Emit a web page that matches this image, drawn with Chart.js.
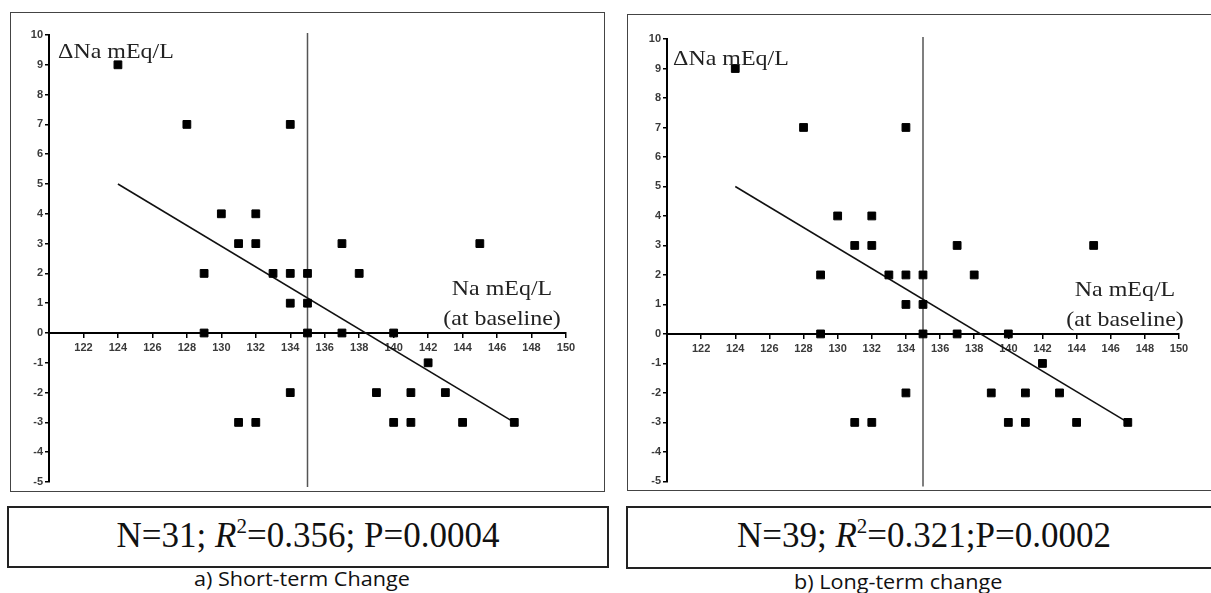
<!DOCTYPE html>
<html>
<head>
<meta charset="utf-8">
<script src="https://cdn.jsdelivr.net/npm/chart.js@4.4.0/dist/chart.umd.min.js"></script>
<style>
  body { margin: 0; background: #fff; width: 1211px; height: 593px; overflow: hidden; position: relative; }
  .plotbox { position: absolute; border: 1.5px solid #444; box-sizing: border-box; }
  canvas { position: absolute; }
  .stats {
    position: absolute; border: 2px solid #222; box-sizing: border-box;
    font-family: "Liberation Serif", "Times New Roman", serif; font-size: 35px; color: #111;
    white-space: nowrap; text-align: center; line-height: 56px;
  }
  .stats sup { font-size: 60%; vertical-align: 0; position: relative; top: -0.65em; }
  .caption {
    position: absolute; font-family: "Open Sans", sans-serif; font-size: 20px; color: #111;
    white-space: nowrap; line-height: 22px; transform: scaleX(1.08); transform-origin: left top;
  }
</style>
</head>
<body>
  <div class="plotbox" style="left:10px; top:12px; width:595px; height:480px;"></div>
  <div class="plotbox" style="left:627px; top:14px; width:600px; height:477px;"></div>
  <canvas id="shortTerm" width="592" height="478" style="left:11px; top:13px;"></canvas>
  <canvas id="longTerm" width="582" height="474" style="left:629px; top:16px;"></canvas>

  <div class="stats" style="left:7px; top:506px; width:602px; height:62px;">N=31; <i>R</i><sup>2</sup>=0.356; P=0.0004</div>
  <div class="stats" style="left:626px; top:506px; width:596px; height:63px;">N=39; <i>R</i><sup>2</sup>=0.321;P=0.0002</div>
  <div class="caption" style="left:194px; top:568px;">a) Short-term Change</div>
  <div class="caption" style="left:794px; top:571px;">b) Long-term change</div>

<script>
// baseline Na (mEq/L) and change in Na (same points visible in both panels)
const naBaseline = [124, 128, 134, 130, 132, 131, 132, 129, 133, 134, 135, 137, 138, 145, 134, 135,
                    129, 135, 137, 140, 131, 132, 134, 139, 141, 143, 142, 140, 141, 144, 147];
const naChange   = [9, 7, 7, 4, 4, 3, 3, 2, 2, 2, 2, 3, 2, 3, 1, 1,
                    0, 0, 0, 0, -3, -3, -2, -2, -2, -2, -1, -3, -3, -3, -3];

// regression line end points
const fitX = [124, 147];
const fitY = [5, -3];

// vertical reference line
const refLineX = 135;

const xRange = [120, 150];
const yRange = [-5, 10];

const tickFont = { family: 'Arial, "Liberation Sans", sans-serif', size: 11, weight: 'bold' };

function stretchText(ctx, text, x, y, sx) {
  ctx.save();
  ctx.translate(x, y);
  ctx.scale(sx, 1);
  ctx.fillText(text, 0, 0);
  ctx.restore();
}

const annotations = {
  id: 'annotations',
  beforeDatasetsDraw(chart) {
    const { ctx, chartArea, scales: { x } } = chart;
    const px = x.getPixelForValue(refLineX);
    ctx.save();
    ctx.strokeStyle = '#555';
    ctx.lineWidth = 1.5;
    ctx.beginPath();
    ctx.moveTo(px, chartArea.top - 2);
    ctx.lineTo(px, chartArea.bottom + 5);
    ctx.stroke();
    ctx.restore();
  },
  afterDraw(chart, args, opts) {
    const { ctx, chartArea, scales: { y } } = chart;
    const y0 = y.getPixelForValue(0);
    ctx.save();
    ctx.fillStyle = '#222';
    ctx.font = '21px "Liberation Serif", "Times New Roman", serif';
    ctx.textBaseline = 'alphabetic';
    ctx.textAlign = 'left';
    stretchText(ctx, '\u0394Na mEq/L', chartArea.left + opts.titleDx, chartArea.top + opts.titleDy, 1.14);
    ctx.textAlign = 'center';
    stretchText(ctx, 'Na mEq/L', chartArea.right - opts.unitDx, y0 - 38, 1.14);
    stretchText(ctx, '(at baseline)', chartArea.right - opts.unitDx, y0 - 8, 1.14);
    ctx.restore();
  }
};

function makeChart(id, pad, labelOpts) {
  return new Chart(document.getElementById(id), {
    type: 'scatter',
    data: {
      datasets: [
        {
          type: 'scatter',
          data: naBaseline.map((v, i) => ({ x: v, y: naChange[i] })),
          pointStyle: 'rect',
          pointRadius: 5.5,
          backgroundColor: '#000',
          borderColor: '#000',
          borderWidth: 1,
          order: 1
        },
        {
          type: 'line',
          data: fitX.map((v, i) => ({ x: v, y: fitY[i] })),
          borderColor: '#111',
          borderWidth: 1.6,
          pointRadius: 0,
          fill: false,
          order: 2
        }
      ]
    },
    options: {
      responsive: false,
      animation: false,
      events: [],
      layout: { padding: pad },
      plugins: {
        legend: { display: false },
        tooltip: { enabled: false },
        annotations: labelOpts
      },
      scales: {
        x: {
          type: 'linear',
          position: { y: 0 },
          min: xRange[0],
          max: xRange[1],
          ticks: {
            stepSize: 2, autoSkip: false, maxRotation: 0, padding: 4,
            color: '#3a3a3a', font: tickFont,
            callback: v => (v === xRange[0] ? '' : v)
          },
          grid: { drawOnChartArea: false, drawTicks: true, tickLength: 4, color: '#000', lineWidth: 1.5 },
          border: { color: '#000', width: 2 }
        },
        y: {
          type: 'linear',
          position: 'left',
          min: yRange[0],
          max: yRange[1],
          ticks: { stepSize: 1, padding: 2, color: '#3a3a3a', font: tickFont },
          grid: { drawOnChartArea: false, drawTicks: true, tickLength: 4, color: '#000', lineWidth: 1.5 },
          border: { color: '#000', width: 2 },
          afterFit: s => { s.width = 38; }
        }
      }
    },
    plugins: [annotations]
  });
}

makeChart('shortTerm', { top: 22, right: 37, bottom: 9, left: 0 }, { titleDx: 9, titleDy: 23, unitDx: 64 });
makeChart('longTerm', { top: 23, right: 32, bottom: 8, left: 0 }, { titleDx: 6, titleDy: 26, unitDx: 54 });
</script>
</body>
</html>
